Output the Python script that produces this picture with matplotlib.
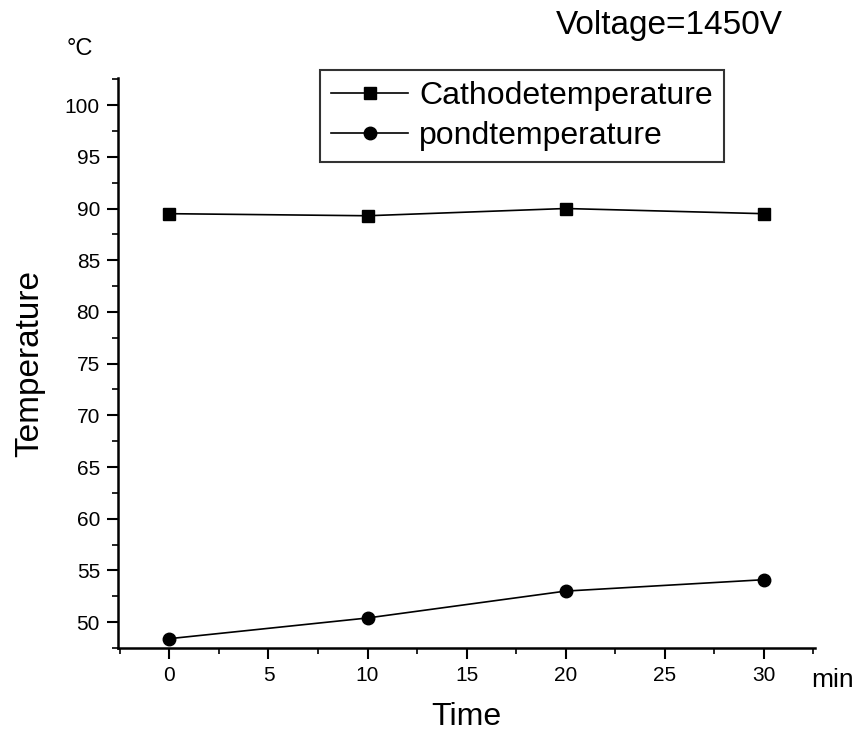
import matplotlib
matplotlib.use('Agg')
import matplotlib.pyplot as plt
from matplotlib.ticker import MultipleLocator

plt.rcParams['font.family'] = ['Liberation Sans', 'DejaVu Sans']

# data
time_min = [0, 10, 20, 30]
cathode_temp = [89.5, 89.3, 90.0, 89.5]
pond_temp = [48.4, 50.4, 53.0, 54.1]

fig = plt.figure(figsize=(8.58, 7.38), dpi=100)
ax = fig.add_axes([0.1375, 0.122, 0.8125, 0.772])

ax.plot(time_min, cathode_temp, color='black', lw=1.2, marker='s', ms=8,
        label='Cathodetemperature')
ax.plot(time_min, pond_temp, color='black', lw=1.2, marker='o', ms=9,
        label='pondtemperature')

ax.set_xlim(-2.6, 32.6)
ax.set_ylim(47.5, 102.6)

ax.xaxis.set_major_locator(MultipleLocator(5))
ax.xaxis.set_minor_locator(MultipleLocator(2.5))
ax.yaxis.set_major_locator(MultipleLocator(5))
ax.yaxis.set_minor_locator(MultipleLocator(2.5))
ax.tick_params(which='major', direction='out', length=8, width=1.5, labelsize=15, pad=5)
ax.tick_params(which='minor', direction='out', length=4, width=1.2)

ax.spines['top'].set_visible(False)
ax.spines['right'].set_visible(False)
ax.spines['left'].set_linewidth(1.8)
ax.spines['bottom'].set_linewidth(1.8)

ax.set_xlabel('Time', fontsize=23, labelpad=12)
ax.set_ylabel('Temperature', fontsize=24, labelpad=14)

fig.text(0.093, 0.934, '°C', fontsize=17, ha='center', va='center')
fig.text(0.97, 0.078, 'min', fontsize=19, ha='center', va='center')
fig.text(0.78, 0.966, 'Voltage=1450V', fontsize=24, ha='center', va='center')

leg = ax.legend(loc='upper left', bbox_to_anchor=(0.29, 1.014), fontsize=23,
                frameon=True, fancybox=False, handlelength=2.4, handletextpad=0.35,
                borderpad=0.35, labelspacing=0.3, borderaxespad=0)
leg.get_frame().set_edgecolor('black')
leg.get_frame().set_linewidth(1.5)

fig.savefig('out.png', dpi=100)
